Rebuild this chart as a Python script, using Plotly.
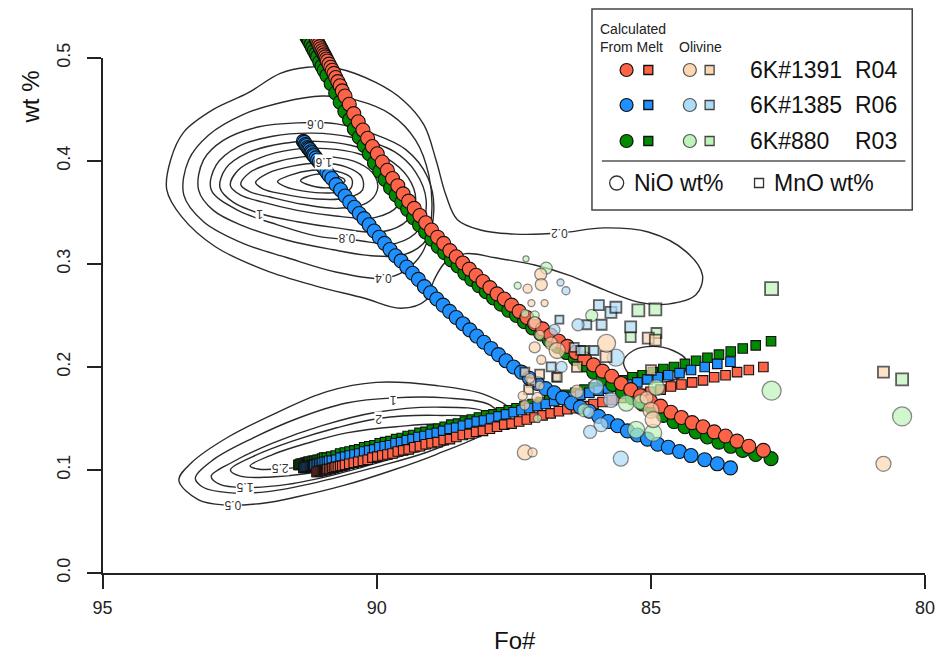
import plotly.graph_objects as go

# ---------------- model: olivine calculated from melt ----------------
fo_1391 = [91.100, 91.080, 91.060, 91.040, 91.020, 91.000, 90.980, 90.960, 90.940, 90.920,
           90.900, 90.870, 90.840, 90.810, 90.780, 90.750, 90.710, 90.670, 90.630, 90.580,
           90.502, 90.420,
           90.338, 90.253, 90.167, 90.080, 89.991, 89.900, 89.807, 89.713, 89.617, 89.519,
           89.419, 89.317, 89.214, 89.108, 89.001, 88.891, 88.780, 88.666, 88.550, 88.432,
           88.312, 88.189, 88.064, 87.937, 87.807, 87.675, 87.541, 87.404, 87.264, 87.122,
           86.977, 86.829, 86.679, 86.525, 86.369, 86.210, 86.048, 85.883, 85.714, 85.543,
           85.368, 85.190, 85.009, 84.824, 84.636, 84.444, 84.249, 84.050, 83.847, 83.640,
           83.430, 83.215, 82.950]
nio_1391 = [0.517, 0.515, 0.513, 0.511, 0.509, 0.507, 0.505, 0.503, 0.501, 0.499,
            0.497, 0.494, 0.491, 0.488, 0.485, 0.481, 0.477, 0.473, 0.468, 0.463,
            0.455, 0.446,
            0.438, 0.430, 0.422, 0.414, 0.407, 0.399, 0.391, 0.383, 0.376, 0.368,
            0.361, 0.354, 0.347, 0.340, 0.333, 0.326, 0.320, 0.313, 0.307, 0.301,
            0.295, 0.289, 0.283, 0.277, 0.271, 0.266, 0.260, 0.254, 0.248, 0.242,
            0.237, 0.231, 0.225, 0.220, 0.214, 0.208, 0.202, 0.196, 0.191, 0.184,
            0.178, 0.172, 0.167, 0.162, 0.156, 0.151, 0.146, 0.142, 0.137, 0.133,
            0.128, 0.123, 0.119]
mno_1391 = [0.098, 0.098, 0.099, 0.099, 0.099, 0.099, 0.100, 0.100, 0.100, 0.100,
            0.101, 0.101, 0.101, 0.102, 0.102, 0.103, 0.103, 0.104, 0.104, 0.105,
            0.106, 0.107,
            0.108, 0.109, 0.110, 0.112, 0.113, 0.114, 0.115, 0.116, 0.118, 0.119,
            0.120, 0.122, 0.123, 0.125, 0.126, 0.127, 0.129, 0.130, 0.132, 0.134,
            0.135, 0.137, 0.138, 0.140, 0.142, 0.144, 0.145, 0.147, 0.149, 0.151,
            0.153, 0.155, 0.157, 0.159, 0.160, 0.162, 0.164, 0.166, 0.168, 0.170,
            0.172, 0.174, 0.176, 0.178, 0.181, 0.183, 0.185, 0.187, 0.190, 0.192,
            0.195, 0.197, 0.200]

fo_1385 = [91.340, 91.320, 91.300, 91.280, 91.260, 91.240, 91.220, 91.200, 91.180, 91.160,
           91.140, 91.110, 91.080, 91.050, 91.020, 90.990, 90.950, 90.910, 90.870, 90.820,
           90.742, 90.660,
           90.578, 90.493, 90.407, 90.320, 90.231, 90.140, 90.047, 89.953, 89.857, 89.759,
           89.659, 89.557, 89.454, 89.348, 89.241, 89.131, 89.020, 88.906, 88.790, 88.672,
           88.552, 88.429, 88.304, 88.177, 88.047, 87.915, 87.781, 87.644, 87.504, 87.362,
           87.217, 87.069, 86.919, 86.765, 86.609, 86.450, 86.288, 86.123, 85.954, 85.783,
           85.608, 85.430, 85.249, 85.064, 84.876, 84.684, 84.480, 84.270, 84.020, 83.790,
           83.550]
nio_1385 = [0.419, 0.418, 0.416, 0.415, 0.413, 0.412, 0.411, 0.409, 0.408, 0.406,
            0.405, 0.403, 0.401, 0.399, 0.397, 0.395, 0.392, 0.389, 0.386, 0.383,
            0.377, 0.372,
            0.366, 0.360, 0.355, 0.349, 0.344, 0.338, 0.332, 0.326, 0.320, 0.314,
            0.308, 0.303, 0.297, 0.291, 0.285, 0.278, 0.272, 0.266, 0.260, 0.254,
            0.248, 0.242, 0.236, 0.230, 0.224, 0.218, 0.212, 0.206, 0.200, 0.195,
            0.189, 0.184, 0.179, 0.175, 0.170, 0.165, 0.161, 0.157, 0.152, 0.147,
            0.143, 0.138, 0.134, 0.130, 0.125, 0.122, 0.118, 0.114, 0.110, 0.106,
            0.102]
mno_1385 = [0.102, 0.102, 0.103, 0.103, 0.103, 0.103, 0.104, 0.104, 0.104, 0.105,
            0.105, 0.105, 0.106, 0.106, 0.107, 0.107, 0.108, 0.108, 0.109, 0.109,
            0.110, 0.112,
            0.113, 0.114, 0.115, 0.116, 0.118, 0.119, 0.120, 0.122, 0.123, 0.124,
            0.126, 0.127, 0.129, 0.130, 0.132, 0.133, 0.135, 0.136, 0.138, 0.140,
            0.141, 0.143, 0.145, 0.147, 0.148, 0.150, 0.152, 0.154, 0.156, 0.158,
            0.160, 0.162, 0.164, 0.167, 0.169, 0.171, 0.173, 0.175, 0.177, 0.179,
            0.181, 0.183, 0.185, 0.188, 0.190, 0.192, 0.194, 0.197, 0.200, 0.203,
            0.205]

fo_880 = [91.430, 91.410, 91.390, 91.370, 91.350, 91.330, 91.310, 91.290, 91.270, 91.250,
          91.230, 91.200, 91.170, 91.140, 91.110, 91.080, 91.040, 91.000, 90.960, 90.910,
          90.832, 90.750,
          90.668, 90.583, 90.497, 90.410, 90.321, 90.230, 90.137, 90.043, 89.947, 89.849,
          89.749, 89.647, 89.544, 89.438, 89.331, 89.221, 89.110, 88.996, 88.880, 88.762,
          88.642, 88.519, 88.394, 88.267, 88.137, 88.005, 87.871, 87.734, 87.594, 87.452,
          87.307, 87.159, 87.009, 86.855, 86.699, 86.540, 86.378, 86.213, 86.044, 85.873,
          85.698, 85.520, 85.339, 85.154, 84.966, 84.774, 84.579, 84.380, 84.177, 83.970,
          83.760, 83.545, 83.326, 83.090, 82.810]
nio_880 = [0.536, 0.534, 0.532, 0.530, 0.528, 0.526, 0.524, 0.522, 0.520, 0.518,
           0.516, 0.513, 0.510, 0.507, 0.504, 0.501, 0.496, 0.492, 0.488, 0.483,
           0.475, 0.466,
           0.457, 0.448, 0.440, 0.431, 0.423, 0.415, 0.407, 0.398, 0.390, 0.382,
           0.374, 0.367, 0.360, 0.353, 0.345, 0.338, 0.331, 0.324, 0.317, 0.311,
           0.304, 0.298, 0.291, 0.285, 0.279, 0.273, 0.267, 0.261, 0.255, 0.250,
           0.244, 0.238, 0.232, 0.226, 0.220, 0.214, 0.208, 0.202, 0.195, 0.189,
           0.183, 0.176, 0.170, 0.164, 0.159, 0.153, 0.147, 0.142, 0.137, 0.132,
           0.127, 0.123, 0.119, 0.115, 0.111]
mno_880 = [0.105, 0.105, 0.106, 0.106, 0.106, 0.106, 0.107, 0.107, 0.107, 0.108,
           0.108, 0.108, 0.109, 0.109, 0.109, 0.110, 0.110, 0.111, 0.112, 0.112,
           0.113, 0.114,
           0.116, 0.117, 0.118, 0.119, 0.120, 0.122, 0.123, 0.124, 0.126, 0.127,
           0.128, 0.130, 0.131, 0.133, 0.134, 0.136, 0.137, 0.139, 0.140, 0.142,
           0.144, 0.145, 0.147, 0.149, 0.151, 0.153, 0.154, 0.156, 0.158, 0.160,
           0.162, 0.164, 0.166, 0.169, 0.171, 0.173, 0.175, 0.178, 0.180, 0.182,
           0.185, 0.187, 0.190, 0.192, 0.195, 0.198, 0.200, 0.203, 0.206, 0.209,
           0.212, 0.215, 0.218, 0.221, 0.225]

# ---------------- measured olivine ----------------
# 6K#1391 R04
ol_1391_ni_fo = [87.30, 87.16, 80.76, 87.01, 87.00, 87.25, 86.94, 87.18, 87.12, 87.03,
                 86.82, 86.71, 85.81, 87.12, 87.00, 86.35, 85.08, 85.00, 84.96, 87.21,
                 87.03, 87.34, 87.07, 87.30]
ol_1391_ni = [0.117, 0.117, 0.106, 0.290, 0.280, 0.276, 0.262, 0.262, 0.243, 0.231,
              0.223, 0.216, 0.223, 0.219, 0.207, 0.176, 0.170, 0.158, 0.149, 0.189,
              0.182, 0.172, 0.170, 0.163]
ol_1391_ni_sz = [15, 9, 15, 12, 12, 9, 7, 7, 12, 10, 13, 16, 18, 11, 9, 13, 13, 16, 16, 10,
                 9, 9, 11, 10]
ol_1391_mn_fo = [80.76, 85.05, 84.92, 85.82, 86.35, 86.71, 85.00, 87.30, 87.18, 87.23, 87.03]
ol_1391_mn = [0.195, 0.228, 0.226, 0.210, 0.200, 0.190, 0.197, 0.195, 0.185, 0.178, 0.193]
ol_1391_mn_sz = [11, 11, 11, 11, 10, 9, 10, 9, 9, 9, 9]

# 6K#1385 R06
ol_1385_ni_fo = [85.55, 86.65, 86.55, 86.33, 85.64, 86.00, 85.73, 85.91, 86.11, 86.13,
                 86.76, 86.63]
ol_1385_ni = [0.111, 0.282, 0.274, 0.241, 0.209, 0.181, 0.168, 0.144, 0.137, 0.156,
              0.236, 0.200]
ol_1385_ni_sz = [15, 7, 8, 12, 17, 15, 15, 14, 13, 11, 11, 11]
ol_1385_mn_fo = [85.95, 85.73, 85.64, 85.90, 86.17, 85.37, 86.40, 86.28, 86.04, 86.67,
                 86.82, 86.73]
ol_1385_mn = [0.260, 0.253, 0.258, 0.241, 0.241, 0.239, 0.219, 0.216, 0.216, 0.246,
              0.200, 0.190]
ol_1385_mn_sz = [10, 11, 11, 10, 9, 11, 9, 9, 9, 8, 9, 8]

# 6K#880 R03
ol_880_ni_fo = [82.80, 80.42, 86.91, 87.28, 87.43, 86.08, 84.90, 85.45, 85.27, 84.96,
                86.22, 87.07, 85.19, 87.30, 87.12]
ol_880_ni = [0.177, 0.152, 0.296, 0.305, 0.279, 0.250, 0.180, 0.165, 0.139, 0.136,
             0.158, 0.150, 0.166, 0.252, 0.250]
ol_880_ni_sz = [19, 19, 12, 6, 7, 12, 16, 16, 17, 17, 13, 8, 15, 8, 9]
ol_880_mn_fo = [82.80, 80.42, 85.23, 84.92, 85.37, 84.90, 86.22]
ol_880_mn = [0.276, 0.188, 0.255, 0.256, 0.229, 0.233, 0.216]
ol_880_mn_sz = [13, 12, 12, 12, 10, 10, 9]

# ---------------- density contours (Fo#, wt%) ----------------
nio_density = {
    "0.2": ([93.83, 93.76, 93.52, 92.98, 92.35, 91.76, 91.27, 90.73, 90.01, 89.52, 89.14,
             88.92, 88.74, 88.53, 88.11, 87.48, 86.67, 85.86, 85.05, 84.36, 84.06, 84.18,
             84.69, 85.23, 85.86, 86.49, 87.12, 87.84, 88.38, 88.74, 88.96, 89.10, 89.56,
             90.24, 91.14, 92.04, 92.95, 93.56, 93.83],
            [0.372, 0.401, 0.428, 0.450, 0.466, 0.485, 0.491, 0.490, 0.476, 0.459, 0.435,
             0.401, 0.367, 0.343, 0.333, 0.329, 0.330, 0.335, 0.331, 0.312, 0.289, 0.270,
             0.261, 0.263, 0.275, 0.289, 0.299, 0.306, 0.310, 0.302, 0.284, 0.265, 0.257,
             0.267, 0.279, 0.294, 0.317, 0.346, 0.372]),
    "0.4": ([93.52, 93.43, 93.07, 92.44, 91.72, 91.00, 90.37, 89.74, 89.29, 89.05, 89.00,
             89.14, 89.47, 89.88, 90.73, 91.63, 92.44, 93.16, 93.52],
            [0.367, 0.401, 0.425, 0.445, 0.457, 0.463, 0.459, 0.445, 0.420, 0.386, 0.348,
             0.314, 0.294, 0.286, 0.292, 0.306, 0.320, 0.341, 0.367]),
    "0.6": ([93.25, 93.16, 92.80, 92.17, 91.45, 90.73, 90.10, 89.47, 89.07, 88.96, 89.10,
             89.50, 90.10, 90.82, 91.63, 92.44, 92.98, 93.25],
            [0.372, 0.401, 0.420, 0.433, 0.437, 0.436, 0.427, 0.411, 0.384, 0.352, 0.323,
             0.309, 0.308, 0.314, 0.323, 0.337, 0.352, 0.372]),
    "0.8": ([93.02, 92.93, 92.53, 91.90, 91.18, 90.46, 89.68, 89.29, 89.10, 89.21, 89.65,
             90.37, 91.09, 91.81, 92.53, 93.02],
            [0.372, 0.396, 0.414, 0.424, 0.427, 0.423, 0.409, 0.389, 0.362, 0.335, 0.320,
             0.323, 0.327, 0.338, 0.352, 0.372]),
    "1": ([92.86, 92.75, 92.35, 91.72, 91.09, 90.46, 89.83, 89.43, 89.29, 89.43, 89.92,
           90.73, 91.45, 92.13, 92.62, 92.86],
          [0.374, 0.393, 0.408, 0.417, 0.419, 0.415, 0.403, 0.384, 0.362, 0.343, 0.331,
           0.335, 0.341, 0.349, 0.360, 0.374]),
    "1.2": ([92.67, 92.53, 92.13, 91.54, 90.91, 90.33, 89.79, 89.56, 89.61, 90.04, 90.82,
             91.45, 92.08, 92.49, 92.67],
            [0.376, 0.391, 0.403, 0.411, 0.412, 0.407, 0.393, 0.377, 0.357, 0.345, 0.347,
             0.352, 0.360, 0.367, 0.376]),
    "1.4": ([92.48, 92.31, 91.90, 91.36, 90.82, 90.33, 90.04, 89.99, 90.19, 90.73, 91.36,
             91.95, 92.31, 92.48],
            [0.377, 0.389, 0.398, 0.404, 0.404, 0.398, 0.386, 0.372, 0.359, 0.354, 0.358,
             0.365, 0.370, 0.377]),
    "1.6": ([92.21, 91.99, 91.54, 91.00, 90.55, 90.28, 90.26, 90.55, 91.09, 91.72, 92.08,
             92.21],
            [0.379, 0.388, 0.395, 0.398, 0.394, 0.385, 0.372, 0.364, 0.363, 0.368, 0.373,
             0.379]),
    "1.8": ([91.81, 91.59, 91.18, 90.73, 90.46, 90.48, 90.82, 91.36, 91.67, 91.81],
            [0.380, 0.386, 0.391, 0.390, 0.383, 0.373, 0.369, 0.371, 0.375, 0.380]),
    "2": ([91.39, 91.12, 90.76, 90.58, 90.76, 91.12, 91.39],
          [0.381, 0.387, 0.386, 0.381, 0.375, 0.375, 0.381]),
    "0.2b": ([85.50, 85.32, 84.96, 84.60, 84.36, 84.42, 84.87, 85.32, 85.50],
             [0.205, 0.216, 0.220, 0.216, 0.207, 0.192, 0.185, 0.189, 0.205]),
}
mno_density = {
    "0.5": ([93.61, 93.38, 92.71, 91.81, 90.91, 90.01, 88.92, 88.02, 87.57, 87.84, 88.92,
             89.70, 90.60, 91.45, 92.04, 92.77, 93.25, 93.61],
            [0.090, 0.107, 0.132, 0.156, 0.176, 0.185, 0.182, 0.173, 0.158, 0.141, 0.115,
             0.100, 0.085, 0.074, 0.068, 0.066, 0.071, 0.090]),
    "1": ([93.31, 92.98, 92.26, 91.45, 90.55, 89.70, 88.74, 87.93, 87.75, 88.20, 89.10,
           90.01, 91.09, 91.99, 92.71, 93.16, 93.31],
          [0.092, 0.110, 0.131, 0.150, 0.165, 0.170, 0.170, 0.163, 0.150, 0.137, 0.117,
           0.103, 0.088, 0.079, 0.078, 0.083, 0.092]),
    "1.5": ([93.02, 92.62, 91.90, 91.00, 90.01, 88.92, 88.02, 87.93, 88.56, 89.65, 90.73,
             91.63, 92.40, 92.86, 93.02],
            [0.094, 0.108, 0.126, 0.143, 0.156, 0.161, 0.156, 0.144, 0.129, 0.112, 0.096,
             0.086, 0.083, 0.086, 0.094]),
    "2": ([92.67, 92.26, 91.54, 90.73, 89.97, 88.92, 88.11, 88.20, 88.92, 90.01, 91.09,
           91.99, 92.49, 92.67],
          [0.100, 0.113, 0.128, 0.141, 0.150, 0.153, 0.149, 0.137, 0.124, 0.110, 0.098,
           0.093, 0.094, 0.100]),
    "2.5": ([92.31, 91.90, 91.27, 90.55, 89.65, 88.74, 88.38, 88.92, 90.01, 91.09, 91.76,
             92.17, 92.31],
            [0.104, 0.115, 0.126, 0.136, 0.142, 0.144, 0.137, 0.127, 0.115, 0.105, 0.101,
             0.101, 0.104]),
}
# contour labels: (text, Fo#, wt%)
contour_labels = [("0.2", 86.67, 0.330), ("0.4", 89.88, 0.287), ("0.6", 91.12, 0.436),
                  ("0.8", 90.55, 0.325), ("1", 92.13, 0.349), ("1.6", 90.97, 0.399),
                  ("0.5", 92.62, 0.066), ("1.5", 92.40, 0.084), ("2.5", 91.76, 0.102),
                  ("2", 89.97, 0.150), ("1", 89.70, 0.168)]

# ---------------- axes ----------------
x_ticks = [95, 90, 85, 80]
y_ticks = [0.0, 0.1, 0.2, 0.3, 0.4, 0.5]

samples = ["6K#1391", "6K#1385", "6K#880"]
runs = ["R04", "R06", "R03"]
model_colors = ["#FF6347", "#1E90FF", "#008B00"]
olivine_colors = ["#FDD6B2", "#ADDCF7", "#BDF5B8"]

# ---------------- page geometry (pixels) ----------------
W, H = 952, 659
ML, MR, MT, MB = 70, 7, 39, 65
PW, PH = W - ML - MR, H - MT - MB


def paper_x(px):
    return (px - ML) / PW


def paper_y(py):
    return (H - MB - py) / PH


fig = go.Figure()

# density contours
for levels in (nio_density, mno_density):
    for key, (cx, cy) in levels.items():
        fig.add_trace(go.Scatter(x=cx, y=cy, mode="lines", line=dict(color="#2b2b2b", width=1.4,
                                 shape="spline", smoothing=1.0),
                                 hoverinfo="skip", showlegend=False))

model_sets = [(fo_1391, nio_1391, mno_1391), (fo_1385, nio_1385, mno_1385), (fo_880, nio_880, mno_880)]
draw_order = [2, 1, 0]

# calculated MnO (squares)
for i in draw_order:
    fo, ni, mn = model_sets[i]
    fig.add_trace(go.Scatter(x=fo, y=mn, mode="markers",
                             marker=dict(symbol="square", size=9.5, color=model_colors[i],
                                         line=dict(color="#111", width=1.1)),
                             hoverinfo="skip", showlegend=False))
# calculated NiO (circles)
for i in draw_order:
    fo, ni, mn = model_sets[i]
    fig.add_trace(go.Scatter(x=fo, y=ni, mode="markers",
                             marker=dict(symbol="circle", size=14, color=model_colors[i],
                                         line=dict(color="#111", width=1.1)),
                             hoverinfo="skip", showlegend=False))

olivine_sets = [
    (ol_1391_ni_fo, ol_1391_ni, ol_1391_ni_sz, ol_1391_mn_fo, ol_1391_mn, ol_1391_mn_sz),
    (ol_1385_ni_fo, ol_1385_ni, ol_1385_ni_sz, ol_1385_mn_fo, ol_1385_mn, ol_1385_mn_sz),
    (ol_880_ni_fo, ol_880_ni, ol_880_ni_sz, ol_880_mn_fo, ol_880_mn, ol_880_mn_sz),
]
for i in draw_order:
    nfo, ni, nsz, mfo, mn, msz = olivine_sets[i]
    fig.add_trace(go.Scatter(x=mfo, y=mn, mode="markers",
                             marker=dict(symbol="square", size=msz, color=olivine_colors[i],
                                         line=dict(color="#1a1a1a", width=1.8)),
                             hoverinfo="skip", showlegend=False))
    fig.add_trace(go.Scatter(x=nfo, y=ni, mode="markers",
                             marker=dict(symbol="circle", size=nsz, color=olivine_colors[i],
                                         line=dict(color="#555", width=1.3)),
                             hoverinfo="skip", showlegend=False))

# frame axes (drawn only from first to last tick)
fig.add_trace(go.Scatter(x=[], y=[], xaxis="x2", yaxis="y2", showlegend=False, hoverinfo="skip"))

# ---------------- legend box ----------------
row_y = [70, 105, 141]
for i in range(3):
    fig.add_trace(go.Scatter(
        x=[633, 697], y=[row_y[i]] * 2, xaxis="x3", yaxis="y3", mode="markers",
        marker=dict(symbol="circle", size=13, color=[model_colors[i], olivine_colors[i]],
                    line=dict(color=["#111", "#555"], width=1.2)),
        hoverinfo="skip", showlegend=False))
    fig.add_trace(go.Scatter(
        x=[655, 717], y=[row_y[i]] * 2, xaxis="x3", yaxis="y3", mode="markers",
        marker=dict(symbol="square", size=9, color=[model_colors[i], olivine_colors[i]],
                    line=dict(color=["#111", "#444"], width=1.3)),
        hoverinfo="skip", showlegend=False))
fig.add_trace(go.Scatter(x=[623], y=[183], xaxis="x3", yaxis="y3", mode="markers",
                         marker=dict(symbol="circle", size=14, color="white",
                                     line=dict(color="#333", width=1.3)),
                         hoverinfo="skip", showlegend=False))
fig.add_trace(go.Scatter(x=[767], y=[183], xaxis="x3", yaxis="y3", mode="markers",
                         marker=dict(symbol="square", size=9, color="white",
                                     line=dict(color="#333", width=1.3)),
                         hoverinfo="skip", showlegend=False))

shapes = [
    dict(type="rect", xref="paper", yref="paper", x0=paper_x(598), x1=paper_x(922),
         y0=paper_y(210), y1=paper_y(9), line=dict(color="#444", width=1.5),
         fillcolor="rgba(255,255,255,0)", layer="above"),
    dict(type="line", xref="paper", yref="paper", x0=paper_x(608), x1=paper_x(915),
         y0=paper_y(161), y1=paper_y(161), line=dict(color="#555", width=1.3)),
]

annotations = []
small = dict(family="Liberation Sans, Arial, sans-serif", size=14, color="#222")
big = dict(family="Liberation Sans, Arial, sans-serif", size=23, color="#111")
annotations += [
    dict(text="Calculated", x=paper_x(604), y=paper_y(29), xref="paper", yref="paper",
         xanchor="left", yanchor="middle", showarrow=False, font=small),
    dict(text="From Melt", x=paper_x(604), y=paper_y(47), xref="paper", yref="paper",
         xanchor="left", yanchor="middle", showarrow=False, font=small),
    dict(text="Olivine", x=paper_x(708), y=paper_y(47), xref="paper", yref="paper",
         xanchor="center", yanchor="middle", showarrow=False, font=small),
]
for i in range(3):
    annotations.append(dict(text=samples[i], x=paper_x(756), y=paper_y(row_y[i]),
                            xref="paper", yref="paper", xanchor="left", yanchor="middle",
                            showarrow=False, font=big))
    annotations.append(dict(text=runs[i], x=paper_x(862), y=paper_y(row_y[i]),
                            xref="paper", yref="paper", xanchor="left", yanchor="middle",
                            showarrow=False, font=big))
annotations += [
    dict(text="NiO wt%", x=paper_x(638), y=paper_y(183), xref="paper", yref="paper",
         xanchor="left", yanchor="middle", showarrow=False, font=big),
    dict(text="MnO wt%", x=paper_x(780), y=paper_y(183), xref="paper", yref="paper",
         xanchor="left", yanchor="middle", showarrow=False, font=big),
]

# contour level labels (R draws them flipped on a reversed axis)
for txt, lx, ly in contour_labels:
    annotations.append(dict(text=txt, x=lx, y=ly, xref="x", yref="y", showarrow=False,
                            textangle=180, bgcolor="white", borderpad=0,
                            font=dict(family="Liberation Sans, Arial, sans-serif",
                                      size=12, color="#333")))

# axis titles
annotations += [
    dict(text="wt %", x=paper_x(30), y=paper_y(97), xref="paper", yref="paper",
         textangle=-90, showarrow=False, xanchor="center", yanchor="middle",
         font=dict(family="Liberation Sans, Arial, sans-serif", size=24, color="#111")),
    dict(text="Fo#", x=paper_x(520), y=paper_y(640), xref="paper", yref="paper",
         showarrow=False, xanchor="center", yanchor="middle",
         font=dict(family="Liberation Sans, Arial, sans-serif", size=24, color="#111")),
]

axis_common = dict(showgrid=False, zeroline=False, showline=True, linecolor="#222",
                   linewidth=1.6, ticks="outside", ticklen=14, tickwidth=1.6,
                   tickcolor="#222",
                   tickfont=dict(family="Liberation Sans, Arial, sans-serif", size=18,
                                 color="#222"))

fig.update_layout(
    width=W, height=H, margin=dict(l=ML, r=MR, t=MT, b=MB),
    paper_bgcolor="white", plot_bgcolor="rgba(0,0,0,0)", showlegend=False,
    xaxis=dict(range=[95.595, 79.82], visible=False, domain=[0, 1]),
    yaxis=dict(range=[-0.0204, 0.5184], visible=False, domain=[0, 1]),
    xaxis2=dict(axis_common, domain=[paper_x(103), paper_x(935)], range=[95, 80],
                anchor="y2", tickvals=x_ticks, ticktext=[str(t) for t in x_ticks],
                ticklabelstandoff=4),
    yaxis2=dict(axis_common, domain=[paper_y(573), paper_y(58)], range=[0, 0.5],
                anchor="x2", tickvals=y_ticks, ticktext=[f"{t:.1f}" for t in y_ticks],
                tickangle=-90, ticklabelstandoff=10),
    xaxis3=dict(overlaying="x", range=[ML, W - MR], visible=False, anchor="y3"),
    yaxis3=dict(overlaying="y", range=[H - MB, MT], visible=False, anchor="x3"),
    shapes=shapes, annotations=annotations,
)

fig.write_html("out.html")
